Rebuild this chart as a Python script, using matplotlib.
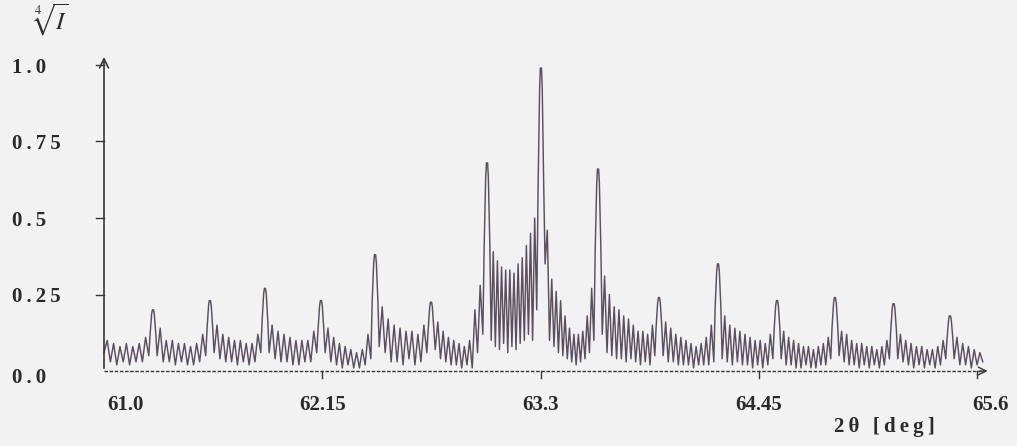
import numpy as np
import matplotlib.pyplot as plt
from matplotlib import transforms

# main reflections: position [deg] and height (fourth root of I)
peak_pos = [61.258, 61.558, 61.848, 62.143, 62.428, 62.723, 63.018, 63.302,
            63.603, 63.924, 64.235, 64.546, 64.851, 65.160, 65.457]
peak_h = [0.20, 0.23, 0.27, 0.23, 0.38, 0.225, 0.68, 0.99,
          0.66, 0.24, 0.35, 0.23, 0.24, 0.22, 0.18]

x_start = 61.0
x_end = 65.63

# fringe maxima / minima between the main reflections
seg_tops = [
    [0.10, 0.09, 0.08, 0.09, 0.08, 0.09, 0.11],
    [0.14, 0.10, 0.10, 0.09, 0.09, 0.08, 0.09, 0.12],
    [0.15, 0.12, 0.11, 0.10, 0.10, 0.09, 0.09, 0.12],
    [0.15, 0.13, 0.12, 0.11, 0.10, 0.10, 0.10, 0.13],
    [0.14, 0.11, 0.09, 0.08, 0.07, 0.06, 0.07, 0.12],
    [0.21, 0.17, 0.15, 0.14, 0.13, 0.13, 0.12, 0.15],
    [0.16, 0.13, 0.11, 0.10, 0.09, 0.08, 0.10, 0.20, 0.28],
    [0.39, 0.36, 0.34, 0.33, 0.33, 0.32, 0.35, 0.37, 0.41, 0.45, 0.50],
    [0.46, 0.30, 0.26, 0.23, 0.18, 0.14, 0.12, 0.12, 0.13, 0.18, 0.27],
    [0.31, 0.25, 0.21, 0.20, 0.18, 0.17, 0.15, 0.13, 0.13, 0.12, 0.15],
    [0.16, 0.14, 0.12, 0.11, 0.10, 0.09, 0.08, 0.09, 0.11, 0.15],
    [0.18, 0.15, 0.14, 0.13, 0.12, 0.11, 0.10, 0.10, 0.09, 0.12],
    [0.13, 0.11, 0.10, 0.09, 0.08, 0.08, 0.07, 0.08, 0.09, 0.11],
    [0.13, 0.12, 0.10, 0.09, 0.09, 0.08, 0.08, 0.07, 0.08, 0.10],
    [0.12, 0.10, 0.09, 0.08, 0.08, 0.07, 0.07, 0.08, 0.10],
    [0.11, 0.09, 0.08, 0.07, 0.06],
]
seg_mins = [
    [0.06, 0.03, 0.02, 0.03, 0.02, 0.03, 0.03, 0.05],
    [0.05, 0.03, 0.03, 0.02, 0.03, 0.02, 0.02, 0.03, 0.05],
    [0.06, 0.04, 0.03, 0.03, 0.02, 0.03, 0.02, 0.03, 0.06],
    [0.06, 0.04, 0.03, 0.03, 0.02, 0.02, 0.03, 0.03, 0.06],
    [0.06, 0.03, 0.02, 0.01, 0.02, 0.01, 0.01, 0.02, 0.04],
    [0.08, 0.06, 0.03, 0.03, 0.02, 0.04, 0.02, 0.03, 0.06],
    [0.07, 0.04, 0.03, 0.02, 0.02, 0.01, 0.02, 0.01, 0.06, 0.12],
    [0.10, 0.08, 0.07, 0.09, 0.06, 0.08, 0.07, 0.09, 0.10, 0.12, 0.10, 0.20],
    [0.35, 0.10, 0.08, 0.06, 0.05, 0.04, 0.03, 0.02, 0.03, 0.04, 0.06, 0.10],
    [0.12, 0.06, 0.05, 0.04, 0.04, 0.03, 0.04, 0.03, 0.02, 0.03, 0.02, 0.05],
    [0.05, 0.03, 0.03, 0.02, 0.02, 0.02, 0.01, 0.02, 0.02, 0.02, 0.03],
    [0.04, 0.03, 0.02, 0.03, 0.02, 0.02, 0.01, 0.02, 0.01, 0.02, 0.04],
    [0.04, 0.02, 0.02, 0.01, 0.01, 0.02, 0.01, 0.01, 0.02, 0.02, 0.04],
    [0.05, 0.03, 0.02, 0.02, 0.01, 0.02, 0.01, 0.02, 0.01, 0.02, 0.04],
    [0.04, 0.03, 0.02, 0.01, 0.02, 0.01, 0.02, 0.01, 0.02, 0.04],
    [0.04, 0.02, 0.02, 0.01, 0.02, 0.03],
]

x_ticks = [61.0, 62.15, 63.3, 64.45, 65.6]
x_labels = ['61.0', '62.15', '63.3', '64.45', '65.6']
y_ticks = [0.0, 0.25, 0.5, 0.75, 1.0]
y_labels = ['0.0', '0.25', '0.5', '0.75', '1.0']

# build the trace
hw = 0.022
xs, ys = [], []
bounds = [x_start - hw] + peak_pos + [x_end + hw]
for i in range(len(seg_tops)):
    a = bounds[i] + hw
    b = bounds[i + 1] - hw
    tops = seg_tops[i]
    mins = seg_mins[i]
    n = len(tops)
    pts = np.linspace(a, b, 2 * n + 1)
    vals = []
    for k in range(n):
        vals.append(mins[k])
        vals.append(tops[k])
    vals.append(mins[n])
    xs.extend(pts)
    ys.extend(vals)
    if i < len(peak_pos):
        p = peak_pos[i]
        h = peak_h[i]
        xs.extend([p - 0.015, p - 0.007, p - 0.003, p + 0.003, p + 0.007, p + 0.015])
        ys.extend([0.6 * h, 0.93 * h, h, h, 0.93 * h, 0.6 * h])

W, H = 1017, 446
fig = plt.figure(figsize=(W / 100, H / 100), dpi=100)
fig.patch.set_facecolor('#f2f2f2')

px_per_deg = 189.8
px_per_unit = 306.0
left, right, base, top = 104, 1005, 371, 40
ax = fig.add_axes([left / W, (H - base) / H, (right - left) / W, (base - top) / H])
ax.set_facecolor('none')
ax.set_xlim(61.0, 61.0 + (right - left) / px_per_deg)
ax.set_ylim(0, (base - top) / px_per_unit)
ax.set_axis_off()

line_col = '#5a5060'
ax.plot(xs, ys, color=line_col, lw=1.05, clip_on=False)

axis_col = '#3a3438'
# x axis (dashed baseline) and arrow
ax.plot([61.0, 65.64], [0, 0], color=axis_col, lw=1.0, ls=(0, (2.5, 1.2)), clip_on=False)
ax.annotate('', xy=(65.67, 0), xytext=(65.60, 0),
            arrowprops=dict(arrowstyle='->', color=axis_col, lw=1.0, mutation_scale=14),
            annotation_clip=False)
# y axis with arrow
ax.annotate('', xy=(61.0, 1.035), xytext=(61.0, 0),
            arrowprops=dict(arrowstyle='->', color=axis_col, lw=1.2, mutation_scale=16),
            annotation_clip=False)

# ticks
dy = 7 / px_per_unit
dx = 8 / px_per_deg
for t in x_ticks[1:]:
    ax.plot([t, t], [0, -dy], color=axis_col, lw=1.0, clip_on=False)
for t in y_ticks[1:]:
    ax.plot([61.0 - dx, 61.0], [t, t], color=axis_col, lw=1.0, clip_on=False)

font = dict(family='Liberation Serif', fontweight='bold', color='#2a2a2a')
thin = '\u2009'

for t, lab in zip(x_ticks, x_labels):
    ha = 'center'
    xt = t
    if t == 61.0:
        ha = 'left'
        xt = t + 3 / px_per_deg
    elif t == 65.6:
        ha = 'left'
        xt = t - 5 / px_per_deg
    ax.text(xt, -34 / px_per_unit, lab, ha=ha, va='center', fontsize=15, **font)

trans = transforms.blended_transform_factory(fig.transFigure, ax.transData)
for t, lab in zip(y_ticks, y_labels):
    off = 7 if t == 0 else 3
    ax.text(12 / W, t - off / px_per_unit, thin.join(lab), transform=trans, ha='left',
            va='center', fontsize=15, **font)

fig.text(32 / W, 1 - 20 / H, r'$\sqrt[4]{I}$', ha='left', va='center', fontsize=18,
         color='#2a2a2a', math_fontfamily='stix')
fig.text(884 / W, 1 - 427 / H, thin.join('2θ [deg]'), ha='center', va='center',
         fontsize=15, **font)

fig.savefig('out.png', dpi=100, facecolor=fig.get_facecolor())
